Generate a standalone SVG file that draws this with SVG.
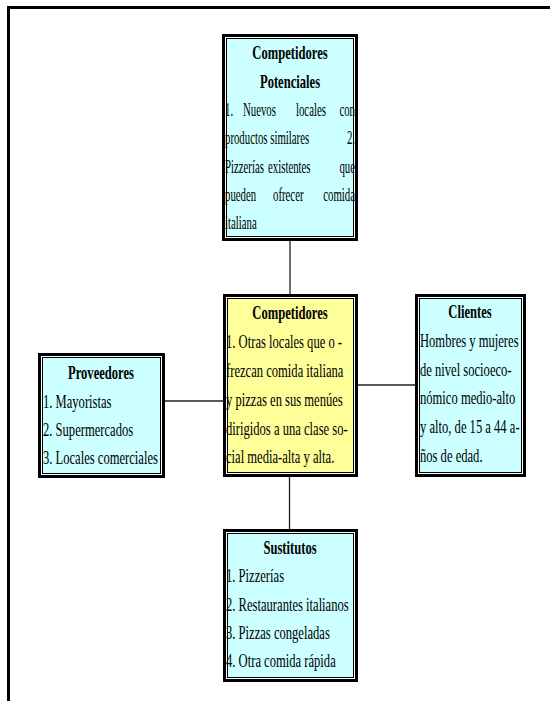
<svg xmlns="http://www.w3.org/2000/svg" width="550" height="701" viewBox="0 0 550 701">
<style>
.outer{fill:#fff;stroke:#000;stroke-width:3}
.inner{stroke:#000;stroke-width:1}
.cyan{fill:#CCFFFF}
.yellow{fill:#FFFF99}
.t{font-family:"Liberation Serif","Times New Roman",serif;font-size:18px;fill:#000}
.b{font-weight:bold;text-anchor:middle}
.e{text-anchor:end}
.conn{stroke:#222;stroke-width:1.3;fill:none}
.frame{stroke:#000;stroke-width:3;fill:none}
</style>
<rect width="550" height="701" fill="#fff"/>
<g id="frame">
<path class="frame" d="M8.5 701 V7.5 H550"/>
</g>
<g id="connectors">
<line class="conn" x1="290" y1="241" x2="290" y2="294"/>
<line class="conn" x1="289.5" y1="477" x2="289.5" y2="529"/>
<line class="conn" x1="165" y1="401" x2="223" y2="401"/>
<line class="conn" x1="358" y1="385" x2="415" y2="385"/>
</g>
<g id="competidores-potenciales">
<rect class="outer" x="223.5" y="35.5" width="133" height="204"/>
<rect class="inner cyan" x="226.5" y="38.5" width="127" height="198"/>
<g transform="scale(0.7 1)" class="t">
<text class="b" x="414.3" y="59">Competidores</text>
<text class="b" x="414.3" y="88">Potenciales</text>
</g>
<g transform="scale(0.6 1)" class="t">
<text x="375" y="116">1.</text><text x="405" y="116">Nuevos</text><text x="493.3" y="116">locales</text><text class="e" x="591.7" y="116">con</text>
<text x="375" y="144">productos similares</text><text class="e" x="591.7" y="144">2.</text>
<text x="375" y="173">Pizzerías</text><text x="446.7" y="173">existentes</text><text class="e" x="591.7" y="173">que</text>
<text x="375" y="201">pueden</text><text x="455" y="201">ofrecer</text><text class="e" x="591.7" y="201">comida</text>
<text x="375" y="229">italiana</text>
</g>
</g>
<g id="competidores">
<rect class="outer" x="224.5" y="295.5" width="132" height="180"/>
<rect class="inner yellow" x="227.5" y="298.5" width="126" height="174"/>
<g transform="scale(0.7 1)" class="t">
<text class="b" x="414.3" y="319">Competidores</text>
<text x="322.9" y="348">1. Otras locales que o -</text>
<text x="322.9" y="377">frezcan comida italiana</text>
<text x="322.9" y="406">y pizzas en sus menúes</text>
<text x="322.9" y="435">dirigidos a una clase so-</text>
<text x="322.9" y="463">cial media-alta y alta.</text>
</g>
</g>
<g id="proveedores">
<rect class="outer" x="39.5" y="354.5" width="124" height="122"/>
<rect class="inner cyan" x="42.5" y="357.5" width="118" height="116"/>
<g transform="scale(0.7 1)" class="t">
<text class="b" x="144.3" y="379">Proveedores</text>
<text x="61.4" y="408">1. Mayoristas</text>
<text x="61.4" y="436">2. Supermercados</text>
<text x="61.4" y="464">3. Locales comerciales</text>
</g>
</g>
<g id="clientes">
<rect class="outer" x="416.5" y="295.5" width="108" height="180"/>
<rect class="inner cyan" x="419.5" y="298.5" width="102" height="174"/>
<g transform="scale(0.7 1)" class="t">
<text class="b" x="671.4" y="318">Clientes</text>
<text x="600" y="347">Hombres y mujeres</text>
<text x="600" y="376">de nivel socioeco-</text>
<text x="600" y="404">nómico medio-alto</text>
<text x="600" y="433">y alto, de 15 a 44 a-</text>
<text x="600" y="462">ños de edad.</text>
</g>
</g>
<g id="sustitutos">
<rect class="outer" x="224.5" y="530.5" width="132" height="150"/>
<rect class="inner cyan" x="227.5" y="533.5" width="126" height="144"/>
<g transform="scale(0.7 1)" class="t">
<text class="b" x="414.3" y="554">Sustitutos</text>
<text x="322.9" y="582">1. Pizzerías</text>
<text x="322.9" y="611">2. Restaurantes italianos</text>
<text x="322.9" y="639">3. Pizzas congeladas</text>
<text x="322.9" y="667">4. Otra comida rápida</text>
</g>
</g>
</svg>
